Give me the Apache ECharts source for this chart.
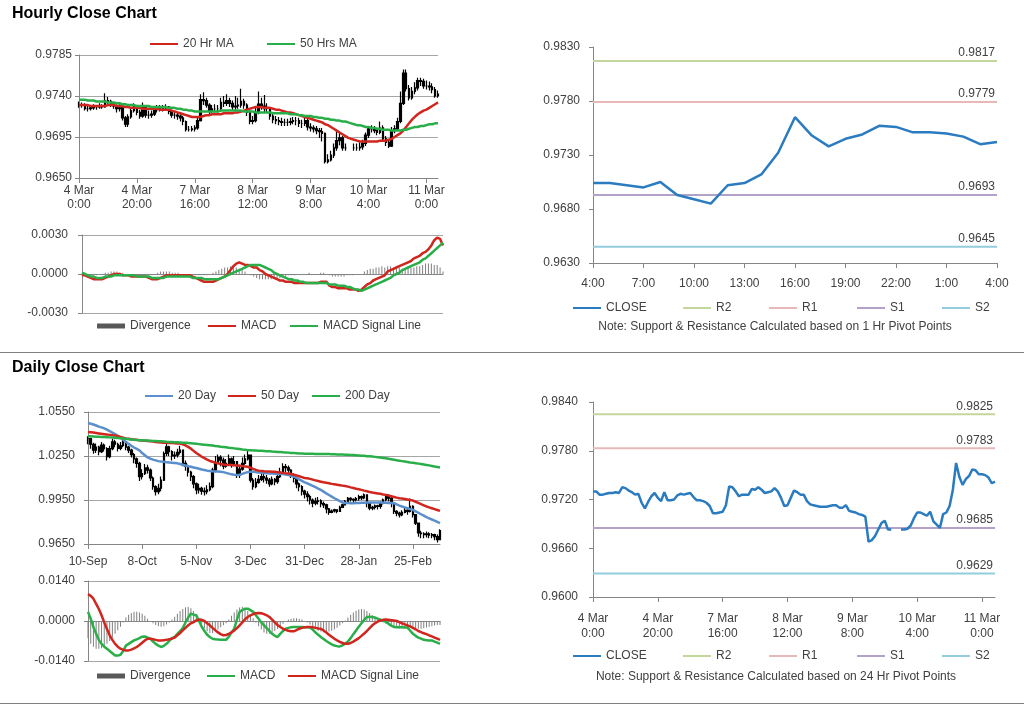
<!DOCTYPE html>
<html><head><meta charset="utf-8">
<script src="https://cdn.jsdelivr.net/npm/echarts@6/dist/echarts.min.js"></script>
<style>html,body{margin:0;padding:0;background:#fff}#c{width:1024px;height:706px}</style>
</head><body><div id="c"></div><script>
// ---------------- DATA ----------------
const weekTicks = ['4 Mar\n0:00','4 Mar\n20:00','7 Mar\n16:00','8 Mar\n12:00','9 Mar\n8:00','10 Mar\n4:00','11 Mar\n0:00'];
const dayTicks = ['10-Sep','8-Oct','5-Nov','3-Dec','31-Dec','28-Jan','25-Feb'];
const hourLabels = ['4:00','5:00','6:00','7:00','8:00','9:00','10:00','11:00','12:00','13:00','14:00','15:00','16:00','17:00','18:00','19:00','20:00','21:00','22:00','23:00','0:00','1:00','2:00','3:00','4:00'];

const hourlyClose = [
0.9730,0.9730,0.9726,0.9726,0.9727,0.9728,0.9728,0.9729,0.9728,0.9735,
0.9734,0.9731,0.9729,0.9726,0.9727,0.9716,0.9709,0.9717,0.9724,0.9728,
0.9722,0.9718,0.9729,0.9719,0.9719,0.9720,0.9725,0.9727,0.9726,0.9727,
0.9728,0.9723,0.9719,0.9719,0.9718,0.9716,0.9712,0.9703,0.9703,0.9704,
0.9705,0.9713,0.9736,0.9735,0.9730,0.9724,0.9726,0.9726,0.9726,0.9733,
0.9732,0.9735,0.9732,0.9728,0.9729,0.9730,0.9734,0.9730,0.9722,0.9712,
0.9713,0.9722,0.9731,0.9729,0.9726,0.9726,0.9718,0.9714,0.9713,0.9712,
0.9711,0.9711,0.9711,0.9712,0.9713,0.9713,0.9710,0.9710,0.9713,0.9706,
0.9705,0.9704,0.9702,0.9701,0.9699,0.9668,0.9670,0.9675,0.9683,0.9691,
0.9694,0.9683,0.9683,null,null,0.9683,0.9683,0.9684,0.9688,0.9697,
0.9704,0.9704,0.9702,0.9700,0.9705,0.9693,0.9689,0.9685,0.9702,0.9704,
0.9712,0.9732,0.9765,0.9748,0.9738,0.9745,0.9749,0.9757,0.9756,0.9751,
0.9751,0.9750,0.9747,0.9740,0.9742];
const hourlyHigh = [
0.9734,0.9733,0.9732,0.9729,0.9730,0.9731,0.9730,0.9732,0.9731,0.9743,
0.9739,0.9736,0.9733,0.9731,0.9731,0.9728,0.9718,0.9720,0.9728,0.9732,
0.9730,0.9725,0.9733,0.9730,0.9724,0.9724,0.9728,0.9730,0.9730,0.9730,
0.9731,0.9729,0.9725,0.9722,0.9722,0.9720,0.9718,0.9713,0.9707,0.9707,
0.9708,0.9716,0.9742,0.9744,0.9738,0.9732,0.9730,0.9731,0.9730,0.9738,
0.9740,0.9742,0.9738,0.9735,0.9740,0.9738,0.9748,0.9737,0.9732,0.9724,
0.9718,0.9727,0.9745,0.9738,0.9741,0.9732,0.9728,0.9721,0.9718,0.9717,
0.9716,0.9715,0.9715,0.9716,0.9717,0.9717,0.9716,0.9714,0.9717,0.9715,
0.9710,0.9708,0.9707,0.9705,0.9705,0.9700,0.9676,0.9680,0.9688,0.9701,
0.9700,0.9696,0.9688,null,null,0.9688,0.9688,0.9689,0.9692,0.9700,
0.9707,0.9708,0.9707,0.9705,0.9712,0.9708,0.9696,0.9692,0.9706,0.9708,
0.9716,0.9745,0.9769,0.9769,0.9752,0.9750,0.9755,0.9760,0.9760,0.9759,
0.9757,0.9756,0.9754,0.9750,0.9746];
const hourlyLow = [
0.9727,0.9727,0.9724,0.9723,0.9724,0.9725,0.9725,0.9726,0.9726,0.9727,
0.9731,0.9728,0.9726,0.9722,0.9723,0.9713,0.9706,0.9706,0.9715,0.9722,
0.9719,0.9715,0.9716,0.9716,0.9715,0.9716,0.9718,0.9722,0.9723,0.9723,
0.9724,0.9720,0.9716,0.9715,0.9714,0.9712,0.9708,0.9701,0.9701,0.9701,
0.9701,0.9703,0.9712,0.9730,0.9727,0.9720,0.9721,0.9722,0.9722,0.9724,
0.9728,0.9729,0.9728,0.9724,0.9725,0.9726,0.9727,0.9726,0.9718,0.9709,
0.9709,0.9711,0.9720,0.9725,0.9722,0.9722,0.9714,0.9710,0.9709,0.9708,
0.9707,0.9707,0.9707,0.9708,0.9709,0.9708,0.9706,0.9705,0.9707,0.9702,
0.9701,0.9700,0.9698,0.9694,0.9690,0.9666,0.9666,0.9668,0.9672,0.9680,
0.9686,0.9680,0.9680,null,null,0.9680,0.9680,0.9680,0.9681,0.9685,
0.9694,0.9700,0.9699,0.9697,0.9698,0.9690,0.9685,0.9683,0.9684,0.9699,
0.9702,0.9710,0.9730,0.9745,0.9735,0.9736,0.9742,0.9746,0.9751,0.9748,
0.9747,0.9746,0.9743,0.9738,0.9738];
const ma20Hr = [
0.9730,0.9730,0.9730,0.9730,0.9729,0.9729,0.9729,0.9729,0.9729,0.9729,
0.9730,0.9730,0.9730,0.9729,0.9729,0.9729,0.9728,0.9728,0.9727,0.9727,
0.9727,0.9727,0.9726,0.9726,0.9726,0.9726,0.9726,0.9726,0.9725,0.9725,
0.9725,0.9725,0.9724,0.9723,0.9722,0.9721,0.9720,0.9719,0.9718,0.9717,
0.9717,0.9717,0.9717,0.9718,0.9719,0.9719,0.9720,0.9720,0.9720,0.9720,
0.9721,0.9721,0.9721,0.9721,0.9722,0.9722,0.9723,0.9724,0.9725,0.9726,
0.9727,0.9728,0.9728,0.9728,0.9727,0.9727,0.9727,0.9726,0.9725,0.9725,
0.9724,0.9723,0.9722,0.9722,0.9721,0.9720,0.9719,0.9718,0.9717,0.9716,
0.9715,0.9714,0.9713,0.9712,0.9711,0.9709,0.9708,0.9706,0.9704,0.9702,
0.9700,0.9698,0.9696,0.9694,0.9693,0.9692,0.9691,0.9690,0.9690,0.9690,
0.9690,0.9690,0.9690,0.9690,0.9691,0.9691,0.9691,0.9692,0.9693,0.9695,
0.9697,0.9699,0.9702,0.9706,0.9710,0.9714,0.9717,0.9720,0.9722,0.9724,
0.9725,0.9727,0.9729,0.9731,0.9733];
const ma50Hr = [
0.9736,0.9736,0.9736,0.9735,0.9735,0.9735,0.9734,0.9734,0.9734,0.9734,
0.9733,0.9733,0.9733,0.9732,0.9732,0.9731,0.9731,0.9730,0.9730,0.9730,
0.9729,0.9729,0.9729,0.9729,0.9729,0.9728,0.9728,0.9728,0.9728,0.9728,
0.9728,0.9727,0.9727,0.9727,0.9726,0.9726,0.9725,0.9725,0.9724,0.9724,
0.9723,0.9723,0.9723,0.9723,0.9723,0.9723,0.9723,0.9723,0.9723,0.9724,
0.9724,0.9724,0.9724,0.9724,0.9724,0.9724,0.9724,0.9723,0.9723,0.9723,
0.9723,0.9722,0.9722,0.9722,0.9722,0.9722,0.9722,0.9721,0.9721,0.9721,
0.9721,0.9721,0.9721,0.9720,0.9720,0.9720,0.9719,0.9719,0.9718,0.9718,
0.9718,0.9717,0.9717,0.9716,0.9716,0.9715,0.9715,0.9714,0.9714,0.9713,
0.9713,0.9712,0.9712,0.9711,0.9710,0.9709,0.9708,0.9708,0.9707,0.9706,
0.9706,0.9705,0.9705,0.9704,0.9704,0.9703,0.9703,0.9703,0.9702,0.9702,
0.9702,0.9702,0.9703,0.9703,0.9704,0.9705,0.9706,0.9706,0.9707,0.9707,
0.9708,0.9709,0.9709,0.9710,0.9710];
const hourlyMacd = [
-0.0001,-0.0001,-0.0002,-0.0003,-0.0004,-0.0004,-0.0004,-0.0004,-0.0003,-0.0002,
-0.0001,0.0000,0.0000,0.0000,-0.0001,-0.0001,-0.0001,-0.0002,-0.0002,-0.0002,
-0.0002,-0.0002,-0.0002,-0.0003,-0.0004,-0.0004,-0.0004,-0.0003,-0.0002,-0.0001,
-0.0001,-0.0001,-0.0001,-0.0001,-0.0001,-0.0001,-0.0001,-0.0001,-0.0002,-0.0003,
-0.0004,-0.0005,-0.0006,-0.0006,-0.0006,-0.0006,-0.0005,-0.0004,-0.0003,-0.0002,
0.0000,0.0003,0.0006,0.0008,0.0009,0.0008,0.0007,0.0007,0.0006,0.0005,
0.0005,0.0003,0.0002,0.0000,-0.0001,-0.0002,-0.0003,-0.0004,-0.0005,-0.0005,
-0.0006,-0.0006,-0.0006,-0.0007,-0.0007,-0.0007,-0.0007,-0.0007,-0.0007,-0.0007,
-0.0007,-0.0007,-0.0006,-0.0006,-0.0006,-0.0009,-0.0010,-0.0010,-0.0011,-0.0011,
-0.0011,-0.0011,-0.0012,-0.0012,-0.0012,-0.0013,-0.0012,-0.0010,-0.0008,-0.0007,
-0.0005,-0.0004,-0.0003,-0.0002,-0.0001,0.0002,0.0003,0.0004,0.0005,0.0006,
0.0007,0.0008,0.0009,0.0010,0.0012,0.0013,0.0014,0.0016,0.0017,0.0019,
0.0022,0.0026,0.0028,0.0027,0.0022];
const hourlySignal = [
0.0001,0.0000,-0.0001,-0.0002,-0.0002,-0.0003,-0.0003,-0.0003,-0.0002,-0.0002,
-0.0002,-0.0001,-0.0001,-0.0001,-0.0001,-0.0001,-0.0001,-0.0001,-0.0001,-0.0002,
-0.0002,-0.0002,-0.0002,-0.0002,-0.0003,-0.0003,-0.0003,-0.0003,-0.0003,-0.0002,
-0.0002,-0.0002,-0.0002,-0.0002,-0.0002,-0.0002,-0.0002,-0.0002,-0.0003,-0.0003,
-0.0003,-0.0003,-0.0004,-0.0004,-0.0004,-0.0004,-0.0004,-0.0004,-0.0003,-0.0002,
-0.0001,0.0000,0.0001,0.0002,0.0003,0.0004,0.0005,0.0006,0.0007,0.0007,
0.0007,0.0007,0.0006,0.0005,0.0004,0.0003,0.0001,0.0000,-0.0001,-0.0002,
-0.0003,-0.0004,-0.0004,-0.0005,-0.0005,-0.0006,-0.0006,-0.0007,-0.0007,-0.0007,
-0.0007,-0.0007,-0.0007,-0.0007,-0.0007,-0.0008,-0.0008,-0.0008,-0.0009,-0.0009,
-0.0009,-0.0010,-0.0010,-0.0011,-0.0012,-0.0012,-0.0013,-0.0012,-0.0011,-0.0010,
-0.0009,-0.0008,-0.0007,-0.0006,-0.0005,-0.0004,-0.0003,-0.0001,0.0000,0.0001,
0.0003,0.0004,0.0005,0.0006,0.0007,0.0008,0.0009,0.0011,0.0012,0.0014,
0.0016,0.0018,0.0020,0.0022,0.0024];
const hourlyDivergence = [
-0.0001,0.0000,-0.0001,-0.0001,-0.0001,-0.0001,0.0000,0.0000,0.0001,0.0001,
0.0002,0.0002,0.0002,0.0001,0.0001,0.0000,0.0000,0.0000,-0.0001,-0.0001,
0.0000,0.0000,0.0000,-0.0001,-0.0001,0.0000,0.0001,0.0002,0.0002,0.0002,
0.0002,0.0001,0.0001,0.0001,0.0000,0.0000,0.0000,-0.0001,-0.0001,-0.0001,
-0.0001,-0.0001,-0.0001,-0.0001,0.0000,0.0001,0.0002,0.0003,0.0004,0.0005,
0.0005,0.0006,0.0006,0.0005,0.0004,0.0003,0.0002,0.0000,-0.0001,-0.0002,
-0.0003,-0.0004,-0.0004,-0.0004,-0.0004,-0.0004,-0.0004,-0.0003,-0.0003,-0.0002,
-0.0002,-0.0001,-0.0001,-0.0001,0.0000,0.0000,0.0000,0.0000,0.0001,0.0000,
0.0000,0.0000,0.0001,0.0001,0.0000,-0.0001,-0.0002,-0.0002,-0.0002,-0.0002,
-0.0002,-0.0001,-0.0001,-0.0001,0.0000,0.0000,0.0000,0.0002,0.0003,0.0004,
0.0004,0.0005,0.0005,0.0006,0.0005,0.0006,0.0006,0.0005,0.0005,0.0005,
0.0004,0.0004,0.0005,0.0005,0.0005,0.0006,0.0006,0.0007,0.0008,0.0008,
0.0008,0.0007,0.0007,0.0005,0.0002];

const dailyClose = [
1.0369,1.0330,1.0290,1.0310,1.0280,1.0324,1.0300,1.0245,1.0300,1.0346,
1.0330,1.0301,1.0320,1.0346,1.0310,1.0290,1.0260,1.0230,1.0200,1.0109,
1.0130,1.0170,1.0154,1.0100,1.0041,1.0007,1.0030,1.0086,1.0267,1.0313,
1.0280,1.0250,1.0256,1.0275,1.0290,1.0200,1.0180,1.0140,1.0109,1.0060,
1.0019,1.0030,1.0010,1.0007,1.0020,1.0041,1.0154,1.0200,1.0240,1.0222,
1.0180,1.0200,1.0230,1.0190,1.0211,1.0120,1.0160,1.0200,1.0230,1.0256,
1.0086,1.0041,1.0070,1.0090,1.0109,1.0100,1.0086,1.0060,1.0090,1.0075,
1.0109,1.0140,1.0177,1.0170,1.0154,1.0120,1.0098,1.0060,1.0041,1.0010,
0.9990,0.9973,0.9950,0.9928,0.9940,0.9945,0.9925,0.9917,0.9890,0.9865,
0.9875,0.9883,0.9872,0.9900,0.9917,0.9940,0.9962,0.9955,0.9951,0.9960,
0.9973,0.9965,0.9985,0.9930,0.9894,0.9900,0.9910,0.9906,0.9930,0.9951,
0.9975,0.9962,0.9930,0.9872,0.9860,0.9849,0.9865,0.9880,0.9872,0.9906,
0.9850,0.9793,0.9725,0.9720,0.9714,0.9720,0.9710,0.9714,0.9700,0.9680,
0.9742];
const dailyHigh = [
1.0385,1.0375,1.0340,1.0335,1.0320,1.0345,1.0335,1.0310,1.0320,1.0370,
1.0360,1.0340,1.0345,1.0370,1.0350,1.0320,1.0300,1.0270,1.0240,1.0210,
1.0160,1.0195,1.0190,1.0165,1.0110,1.0050,1.0060,1.0110,1.0280,1.0345,
1.0320,1.0290,1.0280,1.0300,1.0320,1.0295,1.0220,1.0190,1.0150,1.0120,
1.0070,1.0060,1.0040,1.0035,1.0050,1.0070,1.0170,1.0250,1.0260,1.0255,
1.0240,1.0230,1.0260,1.0240,1.0250,1.0215,1.0190,1.0240,1.0260,1.0285,
1.0260,1.0100,1.0100,1.0120,1.0130,1.0135,1.0120,1.0100,1.0110,1.0100,
1.0130,1.0170,1.0200,1.0195,1.0185,1.0160,1.0130,1.0100,1.0070,1.0050,
1.0020,1.0010,0.9985,0.9960,0.9965,0.9970,0.9955,0.9940,0.9925,0.9895,
0.9885,0.9890,0.9885,0.9910,0.9925,0.9950,0.9970,0.9968,0.9962,0.9970,
0.9985,0.9980,0.9995,0.9990,0.9935,0.9910,0.9920,0.9918,0.9940,0.9960,
0.9985,0.9985,0.9970,0.9935,0.9880,0.9870,0.9880,0.9895,0.9890,0.9960,
0.9915,0.9855,0.9795,0.9740,0.9730,0.9735,0.9730,0.9725,0.9720,0.9715,
0.9750];
const dailyLow = [
1.0330,1.0300,1.0265,1.0270,1.0255,1.0270,1.0280,1.0220,1.0235,1.0290,
1.0310,1.0280,1.0290,1.0310,1.0290,1.0270,1.0240,1.0200,1.0170,1.0080,
1.0090,1.0120,1.0130,1.0080,1.0020,0.9980,0.9990,1.0010,1.0080,1.0250,
1.0250,1.0220,1.0230,1.0240,1.0260,1.0180,1.0150,1.0110,1.0080,1.0030,
0.9990,0.9995,0.9985,0.9980,0.9990,1.0010,1.0030,1.0140,1.0200,1.0180,
1.0160,1.0170,1.0190,1.0170,1.0180,1.0100,1.0100,1.0150,1.0190,1.0220,
1.0070,1.0020,1.0030,1.0060,1.0080,1.0070,1.0060,1.0040,1.0050,1.0050,
1.0060,1.0100,1.0130,1.0140,1.0130,1.0100,1.0070,1.0030,1.0010,0.9980,
0.9960,0.9940,0.9920,0.9900,0.9915,0.9920,0.9900,0.9895,0.9860,0.9850,
0.9860,0.9865,0.9860,0.9870,0.9900,0.9915,0.9935,0.9940,0.9935,0.9940,
0.9945,0.9950,0.9955,0.9900,0.9880,0.9880,0.9885,0.9885,0.9890,0.9920,
0.9940,0.9940,0.9900,0.9855,0.9840,0.9830,0.9840,0.9860,0.9850,0.9865,
0.9830,0.9780,0.9700,0.9690,0.9690,0.9695,0.9690,0.9690,0.9675,0.9660,
0.9680];
const ma20Day = [
1.0475,1.0470,1.0465,1.0458,1.0450,1.0445,1.0438,1.0430,1.0420,1.0410,
1.0400,1.0388,1.0375,1.0360,1.0346,1.0333,1.0320,1.0308,1.0298,1.0288,
1.0270,1.0255,1.0240,1.0232,1.0225,1.0220,1.0215,1.0212,1.0210,1.0208,
1.0206,1.0204,1.0202,1.0200,1.0195,1.0190,1.0185,1.0180,1.0177,1.0172,
1.0168,1.0163,1.0158,1.0155,1.0150,1.0148,1.0146,1.0145,1.0144,1.0143,
1.0140,1.0135,1.0130,1.0125,1.0122,1.0120,1.0122,1.0128,1.0135,1.0140,
1.0143,1.0143,1.0140,1.0138,1.0136,1.0134,1.0132,1.0131,1.0130,1.0129,
1.0128,1.0128,1.0127,1.0124,1.0120,1.0115,1.0109,1.0100,1.0090,1.0080,
1.0070,1.0064,1.0055,1.0046,1.0037,1.0028,1.0019,1.0007,0.9995,0.9984,
0.9973,0.9962,0.9952,0.9942,0.9933,0.9930,0.9929,0.9928,0.9928,0.9929,
0.9930,0.9931,0.9932,0.9933,0.9933,0.9933,0.9933,0.9933,0.9933,0.9932,
0.9931,0.9930,0.9929,0.9928,0.9920,0.9912,0.9906,0.9900,0.9894,0.9888,
0.9883,0.9873,0.9863,0.9853,0.9843,0.9833,0.9825,0.9817,0.9809,0.9801,
0.9793];
const ma50Day = [
1.0414,1.0412,1.0410,1.0407,1.0404,1.0401,1.0399,1.0396,1.0394,1.0392,
1.0389,1.0385,1.0380,1.0375,1.0370,1.0367,1.0364,1.0362,1.0360,1.0358,
1.0356,1.0354,1.0352,1.0350,1.0348,1.0346,1.0344,1.0342,1.0341,1.0340,
1.0339,1.0338,1.0337,1.0336,1.0335,1.0330,1.0322,1.0312,1.0300,1.0285,
1.0270,1.0258,1.0245,1.0235,1.0225,1.0216,1.0211,1.0205,1.0200,1.0195,
1.0192,1.0190,1.0189,1.0188,1.0187,1.0185,1.0183,1.0181,1.0179,1.0177,
1.0170,1.0162,1.0155,1.0150,1.0148,1.0146,1.0145,1.0144,1.0143,1.0142,
1.0140,1.0138,1.0135,1.0132,1.0130,1.0127,1.0122,1.0117,1.0112,1.0106,
1.0100,1.0098,1.0094,1.0089,1.0084,1.0079,1.0075,1.0071,1.0068,1.0064,
1.0060,1.0057,1.0054,1.0051,1.0048,1.0045,1.0041,1.0036,1.0032,1.0027,
1.0023,1.0019,1.0014,1.0010,1.0005,1.0001,0.9998,0.9995,0.9992,0.9988,
0.9985,0.9981,0.9976,0.9971,0.9966,0.9962,0.9960,0.9957,0.9953,0.9950,
0.9946,0.9938,0.9930,0.9922,0.9914,0.9906,0.9900,0.9894,0.9888,0.9882,
0.9876];
const ma200Day = [
1.0385,1.0384,1.0383,1.0382,1.0381,1.0380,1.0379,1.0378,1.0377,1.0376,
1.0375,1.0373,1.0371,1.0369,1.0367,1.0365,1.0363,1.0361,1.0359,1.0358,
1.0357,1.0356,1.0355,1.0354,1.0353,1.0352,1.0351,1.0350,1.0349,1.0347,
1.0346,1.0345,1.0344,1.0343,1.0342,1.0341,1.0340,1.0339,1.0337,1.0335,
1.0333,1.0331,1.0329,1.0327,1.0325,1.0323,1.0321,1.0318,1.0316,1.0313,
1.0311,1.0309,1.0306,1.0304,1.0302,1.0300,1.0298,1.0295,1.0293,1.0290,
1.0289,1.0288,1.0287,1.0286,1.0285,1.0284,1.0283,1.0282,1.0280,1.0279,
1.0278,1.0277,1.0275,1.0274,1.0273,1.0271,1.0270,1.0269,1.0267,1.0267,
1.0266,1.0266,1.0265,1.0265,1.0264,1.0264,1.0264,1.0263,1.0263,1.0263,
1.0262,1.0262,1.0261,1.0260,1.0260,1.0259,1.0258,1.0257,1.0256,1.0255,
1.0254,1.0252,1.0251,1.0249,1.0248,1.0246,1.0244,1.0242,1.0240,1.0237,
1.0234,1.0231,1.0228,1.0225,1.0221,1.0218,1.0215,1.0212,1.0209,1.0206,
1.0204,1.0201,1.0198,1.0195,1.0192,1.0189,1.0186,1.0182,1.0178,1.0175,
1.0172];
const dailyMacd = [
0.0032,0.0008,-0.0021,-0.0045,-0.0066,-0.0080,-0.0090,-0.0097,-0.0105,-0.0113,
-0.0121,-0.0121,-0.0118,-0.0105,-0.0086,-0.0080,-0.0074,-0.0068,-0.0064,-0.0060,
-0.0055,-0.0054,-0.0058,-0.0062,-0.0072,-0.0080,-0.0086,-0.0091,-0.0087,-0.0080,
-0.0070,-0.0060,-0.0056,-0.0045,-0.0035,-0.0025,-0.0005,0.0012,0.0026,0.0022,
0.0020,0.0000,-0.0020,-0.0035,-0.0048,-0.0056,-0.0062,-0.0064,-0.0065,-0.0066,
-0.0066,-0.0066,-0.0055,-0.0040,-0.0027,0.0005,0.0032,0.0038,0.0043,0.0043,
0.0038,0.0032,0.0020,0.0008,-0.0005,-0.0015,-0.0025,-0.0035,-0.0045,-0.0052,
-0.0056,-0.0045,-0.0035,-0.0027,-0.0024,-0.0022,-0.0021,-0.0021,-0.0021,-0.0021,
-0.0022,-0.0022,-0.0023,-0.0030,-0.0040,-0.0048,-0.0056,-0.0063,-0.0070,-0.0076,
-0.0082,-0.0086,-0.0088,-0.0089,-0.0085,-0.0079,-0.0072,-0.0060,-0.0046,-0.0033,
-0.0020,-0.0008,0.0004,0.0014,0.0015,0.0014,0.0012,0.0008,0.0005,0.0002,
-0.0003,-0.0010,-0.0016,-0.0021,-0.0022,-0.0022,-0.0022,-0.0023,-0.0023,-0.0034,
-0.0045,-0.0052,-0.0058,-0.0062,-0.0066,-0.0067,-0.0068,-0.0068,-0.0072,-0.0076,
-0.0080];
const dailySignal = [
0.0094,0.0088,0.0078,0.0060,0.0042,0.0020,-0.0005,-0.0028,-0.0050,-0.0066,
-0.0080,-0.0090,-0.0097,-0.0101,-0.0103,-0.0103,-0.0100,-0.0096,-0.0091,-0.0084,
-0.0076,-0.0068,-0.0062,-0.0062,-0.0064,-0.0066,-0.0068,-0.0068,-0.0067,-0.0066,
-0.0064,-0.0062,-0.0058,-0.0050,-0.0042,-0.0033,-0.0024,-0.0015,-0.0008,-0.0004,
0.0002,0.0005,0.0004,0.0000,-0.0008,-0.0015,-0.0024,-0.0032,-0.0040,-0.0046,
-0.0050,-0.0049,-0.0045,-0.0040,-0.0033,-0.0025,-0.0015,-0.0005,0.0006,0.0014,
0.0020,0.0024,0.0027,0.0028,0.0027,0.0024,0.0020,0.0014,0.0005,-0.0005,
-0.0014,-0.0021,-0.0027,-0.0031,-0.0034,-0.0036,-0.0036,-0.0032,-0.0027,-0.0024,
-0.0022,-0.0021,-0.0021,-0.0022,-0.0024,-0.0026,-0.0027,-0.0033,-0.0040,-0.0048,
-0.0055,-0.0062,-0.0068,-0.0073,-0.0077,-0.0080,-0.0080,-0.0077,-0.0072,-0.0066,
-0.0060,-0.0052,-0.0044,-0.0035,-0.0025,-0.0015,-0.0008,-0.0002,0.0002,0.0004,
0.0005,0.0004,0.0003,0.0002,0.0000,-0.0004,-0.0008,-0.0012,-0.0015,-0.0019,
-0.0024,-0.0029,-0.0035,-0.0039,-0.0043,-0.0046,-0.0050,-0.0054,-0.0058,-0.0062,
-0.0066];
const dailyDivergence = [
-0.0060,-0.0080,-0.0090,-0.0097,-0.0097,-0.0095,-0.0090,-0.0080,-0.0070,-0.0058,
-0.0045,-0.0032,-0.0020,-0.0005,0.0012,0.0022,0.0028,0.0032,0.0032,0.0030,
0.0025,0.0018,0.0008,0.0000,-0.0008,-0.0014,-0.0018,-0.0020,-0.0018,-0.0012,
-0.0005,0.0005,0.0015,0.0025,0.0035,0.0042,0.0048,0.0050,0.0045,0.0035,
0.0020,0.0005,-0.0010,-0.0025,-0.0036,-0.0042,-0.0042,-0.0038,-0.0030,-0.0022,
-0.0015,-0.0008,0.0005,0.0018,0.0030,0.0040,0.0047,0.0050,0.0045,0.0035,
0.0022,0.0010,-0.0005,-0.0018,-0.0030,-0.0040,-0.0045,-0.0045,-0.0040,-0.0035,
-0.0028,-0.0020,-0.0010,0.0000,0.0005,0.0008,0.0010,0.0010,0.0008,0.0005,
0.0000,-0.0005,-0.0012,-0.0020,-0.0028,-0.0034,-0.0037,-0.0039,-0.0039,-0.0037,
-0.0034,-0.0030,-0.0024,-0.0016,-0.0008,0.0002,0.0012,0.0022,0.0030,0.0036,
0.0040,0.0042,0.0040,0.0035,0.0028,0.0020,0.0012,0.0005,0.0000,-0.0005,
-0.0010,-0.0014,-0.0018,-0.0022,-0.0024,-0.0026,-0.0026,-0.0025,-0.0024,-0.0022,
-0.0022,-0.0025,-0.0027,-0.0027,-0.0025,-0.0023,-0.0020,-0.0018,-0.0016,-0.0014,
-0.0014];

const hourlyPivots = {R2: 0.9817, R1: 0.9779, S1: 0.9693, S2: 0.9645};
const dailyPivots  = {R2: 0.9825, R1: 0.9783, S1: 0.9685, S2: 0.9629};
const last24Start = 100;

// ---------------- STYLE ----------------
const FONT = 'Liberation Sans, Arial, sans-serif';
const TXT = '#404040', AX = '#868686', GRIDC = '#a6a6a6';
const RED = '#d0261e', GREEN = '#2aae4a', BLUE_MA = '#5b8fcc', CLOSE_C = '#2a7bbf';
const PIV_C = {R2: '#c3d69b', R1: '#e6b9b8', S1: '#b3a2c7', S2: '#93cddd'};

function ohlc(close, high, low) {
  return close.map((c, i) => {
    if (c === null) return '-';
    const o = (i > 0 && close[i - 1] !== null) ? close[i - 1] : c;
    return [o, c, low[i], high[i]];
  });
}
const idxCats = n => Array.from({length: n}, (_, i) => String(i));
const lbl = (extra) => Object.assign({color: TXT, fontSize: 12, fontFamily: FONT}, extra);

function catX(grid, n, opt) {
  return Object.assign({
    type: 'category', gridIndex: grid, data: idxCats(n), boundaryGap: false,
    axisLine: {show: true, lineStyle: {color: AX}},
    axisTick: {show: true, interval: 19, length: 5, lineStyle: {color: AX}},
    axisLabel: lbl({interval: 19, margin: 7})
  }, opt);
}
function valY(grid, min, max, interval, opt) {
  return Object.assign({
    type: 'value', gridIndex: grid, min, max, interval,
    axisLine: {show: true, lineStyle: {color: AX}},
    axisTick: {show: true, length: 4, lineStyle: {color: AX}},
    splitLine: {show: true, lineStyle: {color: GRIDC}},
    axisLabel: lbl({formatter: v => v.toFixed(4), margin: 8})
  }, opt);
}
function lineS(name, data, color, xi, width, extra) {
  return Object.assign({type: 'line', name, data, xAxisIndex: xi, yAxisIndex: xi, symbol: 'none',
    color, lineStyle: {color, width: width || 2.5}, z: 3, silent: true}, extra);
}
// Pivot level drawn as a flat line series across the category axis, value shown as end label
function pivotS(key, value, xi, n) {
  const color = PIV_C[key];
  const data = idxCats(n).map(() => value);
  return {type: 'line', name: key, data, xAxisIndex: xi, yAxisIndex: xi, symbol: 'none', color, silent: true,
    lineStyle: {color, width: 2}, z: 2,
    endLabel: lbl({show: true, align: 'right', verticalAlign: 'bottom', distance: 0, offset: [-2, -2],
      formatter: () => value.toFixed(4)})};
}
function lg(name, left, cy, extra) {
  return {left, top: cy - 7, data: [Object.assign({name, icon: 'rect'}, extra || {})], itemWidth: 28, itemHeight: 2,
    padding: 0, selectedMode: false, formatter: n => n.trim(), textStyle: lbl({})};
}
const divLg = {icon: 'rect', itemStyle: {color: '#595959'}};

const option = {
  animation: false,
  backgroundColor: '#fff',
  textStyle: {fontFamily: FONT},
  grid: [
    {left: 79, top: 55, width: 359, height: 123},
    {left: 82, top: 235, width: 361, height: 78},
    {left: 593, top: 47, width: 404, height: 216},
    {left: 88, top: 412, width: 352, height: 132},
    {left: 88, top: 581, width: 352, height: 80},
    {left: 593, top: 402, width: 402, height: 195}
  ],
  xAxis: [
    catX(0, hourlyClose.length, {axisLabel: lbl({interval: 19, margin: 6, lineHeight: 14, formatter: (v, i) => weekTicks[i / 20] || ''})}),
    catX(1, hourlyClose.length, {axisLabel: {show: false}, axisTick: {show: false}}),
    catX(2, hourLabels.length, {axisTick: {show: true, interval: 2, length: 5, lineStyle: {color: AX}},
      axisLabel: lbl({interval: 2, margin: 15, formatter: (v, i) => hourLabels[i]})}),
    catX(3, dailyClose.length, {axisLabel: lbl({interval: 19, margin: 12, formatter: (v, i) => dayTicks[i / 20] || ''})}),
    catX(4, dailyClose.length, {axisLabel: {show: false}, axisTick: {show: false}}),
    catX(5, hourlyClose.length, {axisLabel: lbl({interval: 19, margin: 14, lineHeight: 15, formatter: (v, i) => weekTicks[i / 20] || ''})})
  ],
  yAxis: [
    valY(0, 0.9650, 0.9785, 0.0045, {axisLabel: lbl({formatter: v => v.toFixed(4), margin: 7})}),
    valY(1, -0.0030, 0.0030, 0.0030, {axisLabel: lbl({formatter: v => v.toFixed(4), margin: 14})}),
    valY(2, 0.9630, 0.9830, 0.0050, {splitLine: {show: false}, axisLabel: lbl({formatter: v => v.toFixed(4), margin: 13})}),
    valY(3, 0.9650, 1.0550, 0.0300, {axisLabel: lbl({formatter: v => v.toFixed(4), margin: 13})}),
    valY(4, -0.0140, 0.0140, 0.0140, {axisLabel: lbl({formatter: v => v.toFixed(4), margin: 13})}),
    valY(5, 0.9600, 0.9840, 0.0060, {splitLine: {show: false}, axisLabel: lbl({formatter: v => v.toFixed(4), margin: 15})})
  ],
  legend: [
    lg('20 Hr MA', 150, 45), lg('50 Hrs MA', 267, 45),
    Object.assign(lg('Divergence', 97, 327, divLg), {itemHeight: 5}), lg('MACD', 208, 327), lg('MACD Signal Line', 290, 327),
    lg('CLOSE', 573, 309), lg('R2', 683, 309), lg('R1', 769, 309), lg('S1', 857, 309), lg('S2', 942, 309),
    lg('20 Day', 145, 397), lg('50 Day', 228, 397), lg('200 Day', 312, 397),
    Object.assign(lg('Divergence ', 97, 677, divLg), {itemHeight: 5}), lg('MACD ', 207, 677), lg('MACD Signal Line ', 288, 677),
    lg('CLOSE', 573, 657), lg('R2', 683, 657), lg('R1', 769, 657), lg('S1', 857, 657), lg('S2', 942, 657)
  ],
  series: [
    // Hourly price
    {type: 'candlestick', name: 'Hourly OHLC', xAxisIndex: 0, yAxisIndex: 0, data: ohlc(hourlyClose, hourlyHigh, hourlyLow),
      barWidth: 2, silent: true, itemStyle: {color: '#000', color0: '#000', borderColor: '#000', borderColor0: '#000', borderWidth: 1.2}},
    lineS('20 Hr MA', ma20Hr, RED, 0),
    lineS('50 Hrs MA', ma50Hr, GREEN, 0),
    // Hourly MACD
    {type: 'bar', name: 'Divergence', xAxisIndex: 1, yAxisIndex: 1, data: hourlyDivergence, barWidth: 1, silent: true, itemStyle: {color: '#7f7f7f'}},
    lineS('MACD', hourlyMacd, RED, 1),
    lineS('MACD Signal Line', hourlySignal, GREEN, 1),
    // Last 24 hours with pivots
    pivotS('R2', hourlyPivots.R2, 2, hourLabels.length), pivotS('R1', hourlyPivots.R1, 2, hourLabels.length),
    pivotS('S1', hourlyPivots.S1, 2, hourLabels.length), pivotS('S2', hourlyPivots.S2, 2, hourLabels.length),
    lineS('CLOSE', hourlyClose.slice(last24Start), CLOSE_C, 2, 2.5),
    // Daily price
    {type: 'candlestick', name: 'Daily OHLC', xAxisIndex: 3, yAxisIndex: 3, data: ohlc(dailyClose, dailyHigh, dailyLow),
      barWidth: 2, silent: true, itemStyle: {color: '#000', color0: '#000', borderColor: '#000', borderColor0: '#000', borderWidth: 1.2}},
    lineS('20 Day', ma20Day, BLUE_MA, 3),
    lineS('50 Day', ma50Day, RED, 3),
    lineS('200 Day', ma200Day, GREEN, 3),
    // Daily MACD
    {type: 'bar', name: 'Divergence ', xAxisIndex: 4, yAxisIndex: 4, data: dailyDivergence, barWidth: 1, silent: true, itemStyle: {color: '#7f7f7f'}},
    lineS('MACD ', dailyMacd, GREEN, 4),
    lineS('MACD Signal Line ', dailySignal, RED, 4),
    // Week hourly close with 24h pivots
    pivotS('R2', dailyPivots.R2, 5, hourlyClose.length), pivotS('R1', dailyPivots.R1, 5, hourlyClose.length),
    pivotS('S1', dailyPivots.S1, 5, hourlyClose.length), pivotS('S2', dailyPivots.S2, 5, hourlyClose.length),
    lineS('CLOSE', hourlyClose, CLOSE_C, 5, 2.5, {connectNulls: false})
  ],
  graphic: [
    {type: 'text', left: 12, top: 6, style: {text: 'Hourly Close Chart', fontSize: 16, fontWeight: 'bold', fontFamily: FONT, fill: '#000'}},
    {type: 'text', left: 12, top: 360, style: {text: 'Daily Close Chart', fontSize: 16, fontWeight: 'bold', fontFamily: FONT, fill: '#000'}},
    {type: 'line', shape: {x1: 0, y1: 352.5, x2: 1024, y2: 352.5}, style: {stroke: '#808080', lineWidth: 1}},
    {type: 'line', shape: {x1: 0, y1: 703.5, x2: 1024, y2: 703.5}, style: {stroke: '#808080', lineWidth: 1}},
    {type: 'text', x: 775, y: 327, style: {text: 'Note: Support & Resistance Calculated based on 1 Hr Pivot Points', align: 'center', verticalAlign: 'middle', fontSize: 12, fontFamily: FONT, fill: TXT}},
    {type: 'text', x: 776, y: 677, style: {text: 'Note: Support & Resistance Calculated based on 24 Hr Pivot Points', align: 'center', verticalAlign: 'middle', fontSize: 12, fontFamily: FONT, fill: TXT}}
  ]
};
const chart = echarts.init(document.getElementById('c'), null, {renderer: 'canvas'});
chart.setOption(option);
</script></body></html>
